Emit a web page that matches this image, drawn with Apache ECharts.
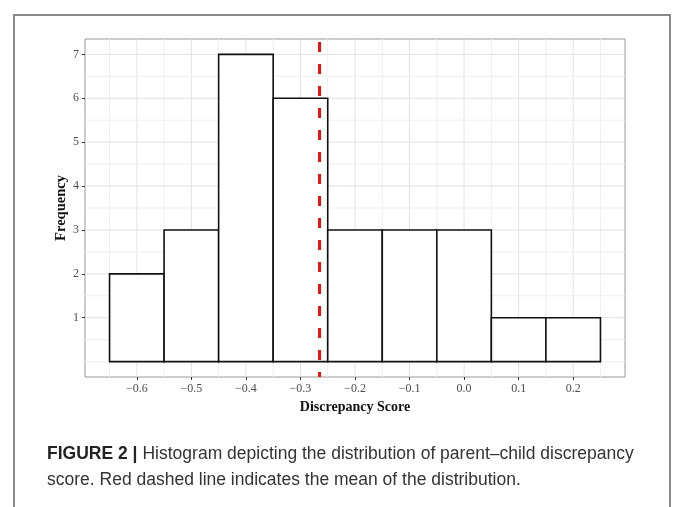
<!DOCTYPE html>
<html>
<head>
<meta charset="utf-8">
<script src="https://cdn.jsdelivr.net/npm/echarts@6/dist/echarts.min.js"></script>
<style>html,body{margin:0;padding:0;background:#fff}#c{width:673px;height:507px}</style>
</head>
<body>
<div id="c"></div>
<script>
// ---- data ----
var binStarts = [-0.65, -0.55, -0.45, -0.35, -0.25, -0.15, -0.05, 0.05, 0.15];
var binWidth = 0.1;
var counts = [2, 3, 7, 6, 3, 3, 3, 1, 1];
var meanValue = -0.265;
var xTicks = [-0.6, -0.5, -0.4, -0.3, -0.2, -0.1, 0.0, 0.1, 0.2];
var xMinor = [-0.65, -0.55, -0.45, -0.35, -0.25, -0.15, -0.05, 0.05, 0.15, 0.25];
var yTicks = [1, 2, 3, 4, 5, 6, 7];
var yMinor = [0, 0.5, 1.5, 2.5, 3.5, 4.5, 5.5, 6.5];
var xRange = [-0.695, 0.295];
var yRange = [-0.35, 7.35];

var chart = echarts.init(document.getElementById('c'), null, {renderer: 'canvas'});

var histData = binStarts.map(function (s, i) { return [s, s + binWidth, counts[i]]; });
var gridData = [];
xMinor.forEach(function (v) { gridData.push(['x', v, 0]); });
xTicks.forEach(function (v) { gridData.push(['x', v, 1]); });
yMinor.forEach(function (v) { gridData.push(['y', v, 0]); });
yTicks.forEach(function (v) { gridData.push(['y', v, 1]); });

function fmtX(v) {
  var s = Math.abs(v).toFixed(1);
  return v < -1e-9 ? '\u2212' + s : s;
}

var serif = '"Liberation Serif", "DejaVu Serif", serif';
var sans = '"Liberation Sans", Arial, sans-serif';

chart.setOption({
  animation: false,
  backgroundColor: '#fff',
  title: {
    left: 42,
    top: 436,
    text: '{b|FIGURE 2 |} {n|Histogram depicting the distribution of parent\u2013child discrepancy}\n{n|score. Red dashed line indicates the mean of the distribution.}',
    textStyle: {
      fontWeight: 'normal',
      rich: {
        b: {fontFamily: sans, fontWeight: 'bold', fontSize: 17.5, color: '#222', lineHeight: 26},
        n: {fontFamily: sans, fontWeight: 'normal', fontSize: 17.5, color: '#333', lineHeight: 26}
      }
    }
  },
  graphic: [{
    type: 'rect',
    shape: {x: 14, y: 15, width: 656, height: 520},
    style: {fill: 'none', stroke: '#666', lineWidth: 1.5},
    silent: true
  }],
  grid: {
    left: 85, top: 39, right: 48, bottom: 130,
    show: true, borderColor: '#999', borderWidth: 1, backgroundColor: '#fff'
  },
  xAxis: {
    type: 'value', min: xRange[0], max: xRange[1],
    name: 'Discrepancy Score', nameLocation: 'middle', nameGap: 23, nameMoveOverlap: false,
    nameTextStyle: {fontFamily: serif, fontWeight: 'bold', fontSize: 14, color: '#111'},
    axisLine: {show: false, onZero: false},
    axisTick: {show: true, length: 3, lineStyle: {color: '#333'}, customValues: xTicks},
    axisLabel: {fontFamily: serif, fontSize: 12, color: '#4d4d4d', margin: 6, customValues: xTicks, formatter: fmtX},
    splitLine: {show: false}
  },
  yAxis: {
    type: 'value', min: yRange[0], max: yRange[1],
    name: 'Frequency', nameLocation: 'middle', nameGap: 16, nameRotate: 90, nameMoveOverlap: false,
    nameTextStyle: {fontFamily: serif, fontWeight: 'bold', fontSize: 14.5, color: '#111'},
    axisLine: {show: false, onZero: false},
    axisTick: {show: true, length: 3, lineStyle: {color: '#333'}, customValues: yTicks},
    axisLabel: {fontFamily: serif, fontSize: 12, color: '#4d4d4d', margin: 6, customValues: yTicks},
    splitLine: {show: false}
  },
  series: [
    {
      type: 'custom', z: 1, silent: true, clip: true,
      data: gridData,
      renderItem: function (params, api) {
        var d = gridData[params.dataIndex];
        var p1, p2;
        if (d[0] === 'x') {
          p1 = api.coord([d[1], yRange[0]]); p2 = api.coord([d[1], yRange[1]]);
        } else {
          p1 = api.coord([xRange[0], d[1]]); p2 = api.coord([xRange[1], d[1]]);
        }
        return {
          type: 'line',
          shape: {x1: p1[0], y1: p1[1], x2: p2[0], y2: p2[1]},
          style: {stroke: d[2] ? '#e2e2e2' : '#efefef', lineWidth: 1}
        };
      }
    },
    {
      type: 'custom', z: 2, silent: true,
      data: histData,
      renderItem: function (params, api) {
        var a = api.coord([api.value(0), api.value(2)]);
        var b = api.coord([api.value(1), 0]);
        return {
          type: 'rect',
          shape: {x: a[0], y: a[1], width: b[0] - a[0], height: b[1] - a[1]},
          style: {fill: '#fff', stroke: '#111', lineWidth: 1.6}
        };
      }
    },
    {
      type: 'custom', z: 3, silent: true,
      data: [[meanValue]],
      renderItem: function (params, api) {
        var t = api.coord([api.value(0), yRange[1]]);
        var b = api.coord([api.value(0), yRange[0]]);
        return {
          type: 'line',
          shape: {x1: t[0], y1: t[1] + 3, x2: b[0], y2: b[1]},
          style: {stroke: '#ee1111', lineWidth: 3, lineDash: [10, 12]}
        };
      }
    }
  ]
});
</script>
</body>
</html>
